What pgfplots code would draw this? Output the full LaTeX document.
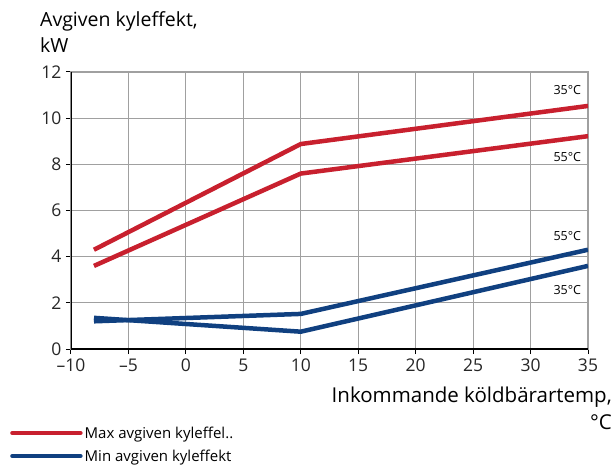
\documentclass[border=0pt]{standalone}
\usepackage{pgfplots}
\pgfplotsset{compat=1.18}
\usepackage{fontspec}
\setmainfont{Open Sans}
\definecolor{cred}{RGB}{200,32,46}
\definecolor{cblue}{RGB}{16,64,128}
\definecolor{cgrid}{RGB}{160,160,160}
\begin{document}
\begin{tikzpicture}[x=1pt,y=1pt]
\path[use as bounding box] (0,0) rectangle (615,466);
\begin{axis}[
  at={(71pt,117pt)}, anchor=south west,
  scale only axis, width=517pt, height=277pt,
  xmin=-10, xmax=35, ymin=0, ymax=12,
  xtick={-10,-5,0,5,10,15,20,25,30,35},
  xticklabels={–10,–5,0,5,10,15,20,25,30,35},
  ytick={0,2,4,6,8,10,12},
  grid=major,
  major grid style={cgrid, line width=1pt},
  axis line style={cgrid, line width=1.2pt},
  tick pos=left, tick align=outside,
  major tick length=5pt,
  tick style={black, line width=1pt},
  ticklabel style={font=\fontsize{17.5}{20}\selectfont, text=black!85},
  /pgf/number format/assume math mode=true,
  xticklabel style={yshift=-1pt},
  yticklabel style={xshift=-1pt},
  legend cell align=left,
  legend style={draw=none, fill=none, at={(axis description cs:-0.118,-0.272)}, anchor=north west,
    font=\fontsize{15}{17}\selectfont, row sep=6pt, inner sep=0pt},
  legend image code/.code={\draw[#1, line width=4.5pt, line cap=round] (0pt,0pt) -- (68pt,0pt);},
]
\addplot[cred, line width=4.5pt, line join=round] coordinates {(-8,4.3) (10,8.88) (35,10.53)};
\addlegendentry{Max avgiven kyleffel..}
\addplot[cred, line width=4.5pt, line join=round, forget plot] coordinates {(-8,3.6) (10,7.6) (35,9.22)};
\addplot[cblue, line width=4.5pt, line join=round] coordinates {(-8,1.2) (10,1.52) (35,4.3)};
\addlegendentry{Min avgiven kyleffekt}
\addplot[cblue, line width=4.5pt, line join=round, forget plot] coordinates {(-8,1.35) (10,0.75) (35,3.6)};
\draw[black, line width=2pt] (rel axis cs:0,1) -- (rel axis cs:0,0) -- (rel axis cs:1,0);
\node[anchor=east, font=\fontsize{12.5}{14}\selectfont, inner sep=1pt] at (axis cs:34.5,11.2) {35°C};
\node[anchor=east, font=\fontsize{12.5}{14}\selectfont, inner sep=1pt, fill=white] at (axis cs:34.5,8.3) {55°C};
\node[anchor=east, font=\fontsize{12.5}{14}\selectfont, inner sep=1pt] at (axis cs:34.5,4.9) {55°C};
\node[anchor=east, font=\fontsize{12.5}{14}\selectfont, inner sep=1pt] at (axis cs:34.5,2.55) {35°C};
\end{axis}
\node[anchor=base west, font=\fontsize{19.5}{22}\selectfont, inner sep=0pt] at (40,466-27) {Avgiven kyleffekt,};
\node[anchor=base west, font=\fontsize{19.5}{22}\selectfont, inner sep=0pt] at (40,466-53) {kW};
\node[anchor=base east, font=\fontsize{20.5}{22}\selectfont, inner sep=0pt] at (612,466-402) {Inkommande köldbärartemp,};
\node[anchor=base east, font=\fontsize{20.5}{22}\selectfont, inner sep=0pt] at (612,466-429) {°C};
\end{tikzpicture}
\end{document}
